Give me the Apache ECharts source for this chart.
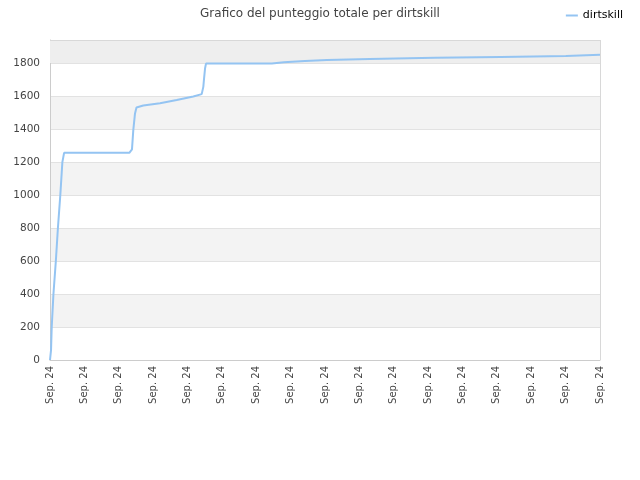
<!DOCTYPE html>
<html>
<head>
<meta charset="utf-8">
<script src="https://cdn.jsdelivr.net/npm/echarts@6/dist/echarts.min.js"></script>
<style>html,body{margin:0;padding:0;background:#fff}#c{width:640px;height:480px}</style>
</head>
<body>
<div id="c"></div>
<script>
// x positions (time index, 0..160) and total score
const xPos = [0, 0.3, 0.5, 1.0, 1.7, 2.3, 3.0, 3.6, 4.1, 23.07, 23.36, 23.85, 24.23, 24.73, 25.16, 27.14, 32.0, 36.86, 41.69, 44.13, 44.6, 44.8, 45.1, 45.38, 64.55, 64.6, 68.03, 68.07, 74.15, 74.18, 80.55, 80.58, 93.05, 93.09, 111.95, 112.0, 131.15, 131.2, 150.05, 150.1, 160];
const scores = [0, 60, 200, 400, 600, 800, 1000, 1200, 1256, 1256, 1268, 1277, 1394, 1495, 1531, 1543, 1557, 1576, 1598, 1612, 1656, 1703, 1767, 1797, 1797, 1805, 1805, 1812, 1812, 1818, 1818, 1825, 1825, 1832, 1832, 1837, 1837, 1843, 1843, 1850, 1850];
const tickLabels = ['Sep. 24','Sep. 24','Sep. 24','Sep. 24','Sep. 24','Sep. 24','Sep. 24','Sep. 24','Sep. 24','Sep. 24','Sep. 24','Sep. 24','Sep. 24','Sep. 24','Sep. 24','Sep. 24','Sep. 24'];
const seriesName = 'dirtskill';

const data = xPos.map((x, i) => [x, scores[i]]);
const chart = echarts.init(document.getElementById('c'));
chart.setOption({
  animation: false,
  title: {
    text: 'Grafico del punteggio totale per dirtskill',
    left: 'center', top: 3,
    textStyle: {fontFamily: 'DejaVu Sans', fontSize: 12, fontWeight: 'normal', color: '#444'}
  },
  legend: {
    right: 12, top: 5,
    itemWidth: 12, itemHeight: 2, itemGap: 8,
    icon: 'rect',
    textStyle: {fontFamily: 'DejaVu Sans', fontSize: 11, color: '#000'},
    data: [seriesName]
  },
  grid: {left: 50, right: 40, top: 40, bottom: 120, containLabel: false},
  xAxis: {
    type: 'value', min: 0, max: 160, interval: 10,
    axisLine: {show: true, lineStyle: {color: '#ccc'}},
    axisTick: {show: false},
    splitLine: {show: false},
    axisLabel: {
      rotate: 90, fontFamily: 'DejaVu Sans', fontSize: 10, color: '#444', margin: 6,
      formatter: v => tickLabels[Math.round(v / 10)]
    }
  },
  yAxis: {
    type: 'value', min: 0, max: 1940, interval: 200,
    axisLine: {show: true, lineStyle: {color: '#ccc'}},
    axisTick: {show: false},
    axisLabel: {fontFamily: 'DejaVu Sans', fontSize: 10.5, color: '#444', margin: 10,
      showMaxLabel: false, formatter: v => String(v)},
    splitLine: {show: true, lineStyle: {color: '#e2e2e2'}},
    splitArea: {show: true, areaStyle: {color: ['#ffffff', '#f3f3f3']}}
  },
  series: [{
    name: seriesName, type: 'line', data: data, showSymbol: false,
    lineStyle: {color: '#94c4f2', width: 2},
    itemStyle: {color: '#94c4f2'},
    markArea: {
      silent: true,
      itemStyle: {color: '#eeeeee'},
      data: [[{yAxis: 1800}, {yAxis: 1940}]]
    },
    markLine: {
      silent: true, symbol: 'none', label: {show: false},
      lineStyle: {color: '#d8d8d8', type: 'solid', width: 1},
      data: [{yAxis: 1940}, {xAxis: 160}]
    }
  }]
});
</script>
</body>
</html>
